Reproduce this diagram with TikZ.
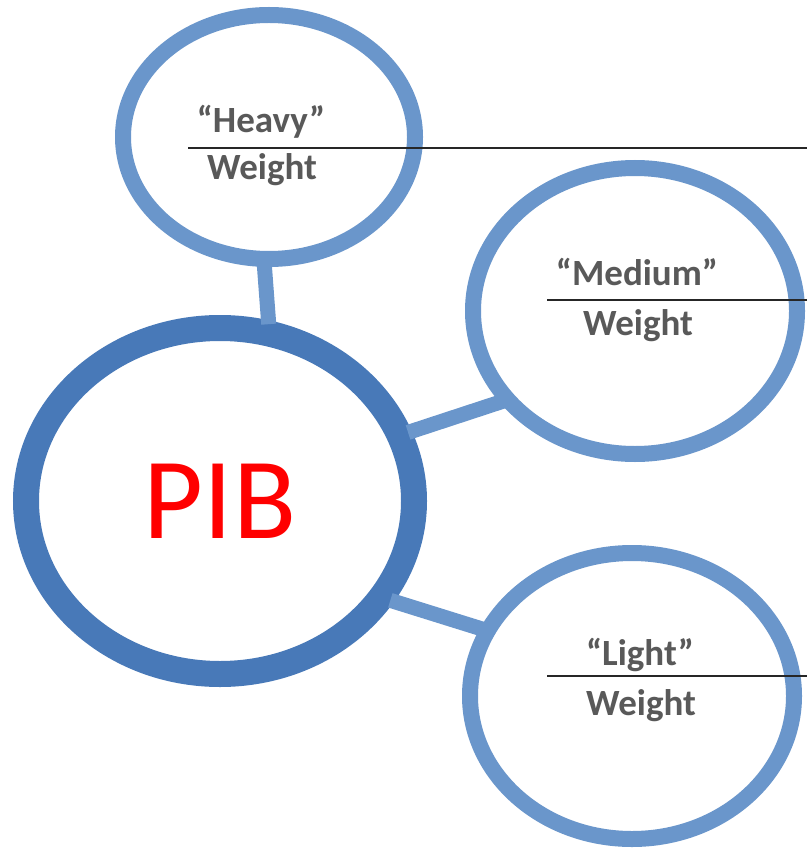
\documentclass[tikz,border=0pt]{standalone}
\usepackage{fontspec}
\setmainfont{Carlito}
\usetikzlibrary{shapes.geometric}
\definecolor{ringblue}{RGB}{106,150,203}
\definecolor{pibblue}{RGB}{72,121,184}
\definecolor{labelgray}{RGB}{89,89,89}

\begin{document}
\begin{tikzpicture}[x=1pt,y=-1pt,
  ring/.style={ellipse,draw=ringblue,fill=white,line width=16pt,inner sep=0pt},
  link/.style={draw=ringblue,line width=15pt,shorten <=-4pt,shorten >=-4pt},
  lbl/.style={text=labelgray,font=\fontsize{37}{40}\selectfont\bfseries,anchor=base,inner sep=0pt},
  rule/.style={draw=black!85,line width=1.2pt}]
\useasboundingbox (0,0) rectangle (807,850);
% the big circle and the three small ones
\node[ellipse,draw=pibblue,fill=white,line width=26pt,inner sep=0pt,
  minimum width=388pt,minimum height=346pt,text=red,
  font=\fontsize{116}{120}\selectfont] (pib) at (220,501) {PIB};
\node[ring,minimum width=292pt,minimum height=244pt] (heavy) at (269,137) {};
\node[ring,minimum width=324pt,minimum height=286pt] (medium) at (635,311) {};
\node[ring,minimum width=324pt,minimum height=286pt] (light) at (632,696) {};
% links
\draw[link] (pib.75) -- (heavy.268);
\draw[link] (pib.20) -- (medium.214);
\draw[link] (pib.-30) -- (light.156);
% rules
\draw[rule] (188,148) -- (807,148);
\draw[rule] (547,300) -- (807,300);
\draw[rule] (547,676) -- (807,676);
% labels
\node[lbl] (heavyname) at (261,133) {“Heavy”};
\node[lbl] (heavyunit) at (262,180) {Weight};
\node[lbl] (mediumname) at (637,285) {“Medium”};
\node[lbl] (mediumunit) at (638,335) {Weight};
\node[lbl] (lightname) at (640,665) {“Light”};
\node[lbl] (lightunit) at (641,715) {Weight};
\end{tikzpicture}
\end{document}
